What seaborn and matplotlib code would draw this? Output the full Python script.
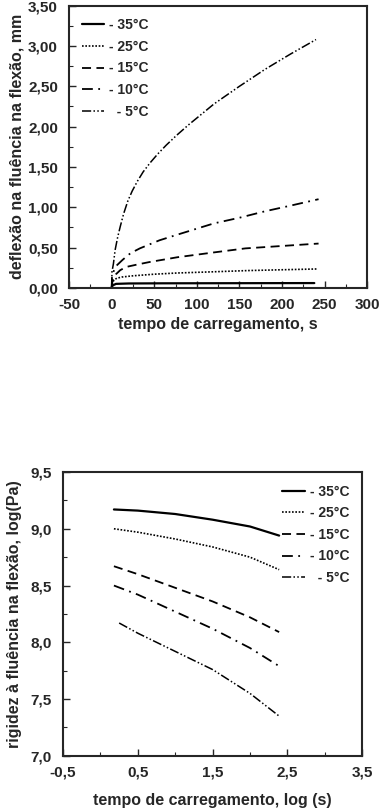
import matplotlib
matplotlib.use("Agg")
import matplotlib.pyplot as plt
import matplotlib.ticker as mticker
import pandas as pd
import seaborn as sns

# top chart: creep deflection vs loading time
labels = ["- 35°C", "- 25°C", "- 15°C", "- 10°C", "  - 5°C"]

t_35 = [0, 0.3, 1, 5, 20, 60, 120, 180, 238]
d_35 = [0.0, 0.02, 0.03, 0.05, 0.055, 0.057, 0.058, 0.059, 0.06]

t_25 = [0, 0.3, 1, 3, 6, 12, 25, 50, 77, 120, 160, 200, 242]
d_25 = [0.0, 0.04, 0.07, 0.10, 0.12, 0.135, 0.15, 0.17, 0.185, 0.20, 0.215, 0.225, 0.235]

t_15 = [0, 0.3, 2, 5, 10, 17, 30, 44, 77, 120, 157, 200, 243]
d_15 = [0.0, 0.08, 0.12, 0.17, 0.22, 0.26, 0.29, 0.32, 0.38, 0.44, 0.49, 0.52, 0.55]

t_10 = [0, 0.3, 2, 5, 13, 22, 33, 56, 77, 120, 150, 180, 210, 243]
d_10 = [0.0, 0.14, 0.20, 0.27, 0.35, 0.43, 0.49, 0.59, 0.66, 0.80, 0.87, 0.95, 1.02, 1.10]

t_5 = [0, 0.3, 2, 4, 7, 10, 14, 19, 24, 30, 37, 45, 54, 64, 76, 90, 105, 120, 150, 180, 210, 240]
d_5 = [0.0, 0.20, 0.30, 0.47, 0.63, 0.76, 0.92, 1.08, 1.20, 1.32, 1.44, 1.55, 1.66, 1.77, 1.89, 2.02, 2.15, 2.28, 2.50, 2.71, 2.90, 3.08]

# bottom chart: creep stiffness vs log loading time
logt = [0.18, 0.5, 1.0, 1.5, 2.0, 2.39]
logt_5 = [0.25, 0.5, 1.0, 1.5, 2.0, 2.39]
s_35 = [9.17, 9.16, 9.13, 9.08, 9.02, 8.94]
s_25 = [9.00, 8.97, 8.91, 8.84, 8.75, 8.64]
s_15 = [8.67, 8.60, 8.48, 8.36, 8.22, 8.09]
s_10 = [8.50, 8.42, 8.27, 8.12, 7.95, 7.79]
s_5 = [8.17, 8.08, 7.92, 7.76, 7.55, 7.35]


def long_df(xs, ys):
    rows = []
    for lab, x, y in zip(labels, xs, ys):
        for a, b in zip(x, y):
            rows.append({"x": a, "y": b, "serie": lab})
    return pd.DataFrame(rows)


df_top = long_df([t_35, t_25, t_15, t_10, t_5], [d_35, d_25, d_15, d_10, d_5])
df_bot = long_df([logt, logt, logt, logt, logt_5], [s_35, s_25, s_15, s_10, s_5])

sns.set_style("ticks")
plt.rcParams['font.family'] = ['Liberation Sans', 'DejaVu Sans']
plt.rcParams['font.weight'] = 'bold'
plt.rcParams['axes.labelweight'] = 'bold'
plt.rcParams['axes.unicode_minus'] = False
plt.rcParams['xtick.direction'] = 'in'
plt.rcParams['ytick.direction'] = 'in'

dashes = {
    labels[0]: "",
    labels[1]: (1, 1),
    labels[2]: (5, 3),
    labels[3]: (6, 3, 1, 3),
    labels[4]: (6, 1.5, 1, 1.5, 1, 1.5),
}
palette = {lab: "black" for lab in labels}
widths = [1.6, 1.2, 1.3, 1.3, 1.1]

fig = plt.figure(figsize=(3.8, 8.11), dpi=100)
ax1 = fig.add_axes([0.182, 0.645, 0.784, 0.348])
ax2 = fig.add_axes([0.166, 0.068, 0.787, 0.350])


def draw(ax, df):
    sns.lineplot(data=df, x="x", y="y", hue="serie", style="serie", palette=palette,
                 dashes=dashes, hue_order=labels, style_order=labels,
                 estimator=None, sort=False, ax=ax, legend=False)
    for line, lw in zip(ax.get_lines(), widths):
        line.set_linewidth(lw)
    for s in ax.spines.values():
        s.set_linewidth(1.5)
        s.set_visible(True)
    ax.tick_params(which="major", length=5, width=1.0, labelsize=11)
    ax.tick_params(which="minor", length=3, width=0.8)
    ax.tick_params(axis="y", which="major", pad=8)
    ax.tick_params(axis="x", which="major", pad=7)
    ax.tick_params(top=False, right=False)


def comma(fmt):
    return mticker.FuncFormatter(lambda v, p: (fmt % v).replace(".", ","))


def add_legend(ax, loc, anchor):
    leg = ax.legend(ax.get_lines(), labels, loc=loc, bbox_to_anchor=anchor,
                    frameon=False, fontsize=10, handlelength=1.6, handletextpad=0.4,
                    labelspacing=0.55, borderaxespad=0.5)
    return leg


draw(ax1, df_top)
ax1.set_xlim(-50, 300)
ax1.set_ylim(0, 3.5)
ax1.xaxis.set_major_locator(mticker.MultipleLocator(50))
ax1.xaxis.set_minor_locator(mticker.MultipleLocator(25))
ax1.yaxis.set_major_locator(mticker.MultipleLocator(0.5))
ax1.yaxis.set_minor_locator(mticker.MultipleLocator(0.25))
ax1.yaxis.set_major_formatter(comma("%.2f"))
ax1.set_xlabel("tempo de carregamento, s", fontsize=11.5, labelpad=4)
ax1.set_ylabel("deflexão na fluência na flexão, mm", fontsize=11.5, labelpad=3)
add_legend(ax1, "upper left", (0.0, 1.0))

draw(ax2, df_bot)
ax2.set_xlim(-0.5, 3.5)
ax2.set_ylim(7.0, 9.5)
ax2.xaxis.set_major_locator(mticker.MultipleLocator(1.0, offset=0.5))
ax2.xaxis.set_minor_locator(mticker.MultipleLocator(0.5))
ax2.yaxis.set_major_locator(mticker.MultipleLocator(0.5))
ax2.yaxis.set_minor_locator(mticker.MultipleLocator(0.25))
ax2.xaxis.set_major_formatter(comma("%.1f"))
ax2.yaxis.set_major_formatter(comma("%.1f"))
ax2.set_xlabel("tempo de carregamento, log (s)", fontsize=11.5, labelpad=10)
ax2.set_ylabel("rigidez à fluência na flexão, log(Pa)", fontsize=11.5, labelpad=6)
add_legend(ax2, "upper right", (1.0, 1.0))

fig.savefig("out.png", dpi=100)
